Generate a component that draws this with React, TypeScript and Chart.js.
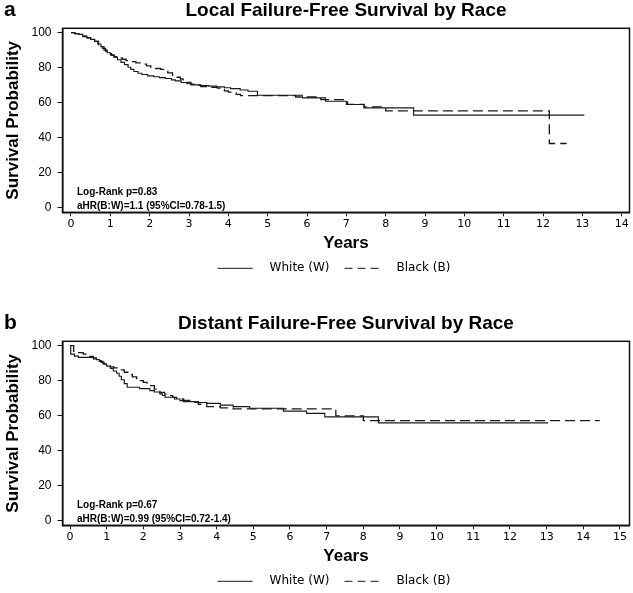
import React, { useEffect, useRef } from 'react';
import { Chart, registerables } from 'chart.js';

Chart.register(...registerables);

// ---------- data ----------
const seriesLabels = ['White (W)', 'Black (B)'];
const yTicks = [0, 20, 40, 60, 80, 100];

// Panel a: Local failure-free survival
const localXTicks = [0, 1, 2, 3, 4, 5, 6, 7, 8, 9, 10, 11, 12, 13, 14];
const localWhiteYears = [0, 0.1, 0.2, 0.3, 0.4, 0.5, 0.6, 0.68, 0.76, 0.84, 0.92, 1.0, 1.09, 1.18, 1.27, 1.36, 1.45, 1.52, 1.6, 1.7, 1.8, 1.95, 2.1, 2.25, 2.4, 2.55, 2.65, 2.8, 2.95, 3.05, 3.3, 3.5, 3.7, 3.9, 4.06, 4.3, 4.5, 4.74, 5.88, 6.47, 7.0, 7.45, 8.71, 13.05];
const localWhiteSurvival = [100, 99.5, 99, 98, 97.2, 96.2, 95, 93.5, 92, 90, 88.5, 87.3, 86, 84.5, 83, 81.7, 80.2, 79, 77.8, 76.8, 76.1, 75.3, 74.8, 74.3, 73.8, 73, 72.4, 71.5, 70.8, 70.1, 69.7, 69.4, 69, 68.5, 68, 67.2, 66.5, 64.2, 62.7, 60.8, 58.9, 57, 52.8, 52.8];
const localBlackYears = [0, 0.1, 0.2, 0.3, 0.4, 0.5, 0.6, 0.7, 0.8, 0.88, 0.95, 1.03, 1.1, 1.2, 1.3, 1.4, 1.52, 1.65, 1.8, 1.92, 2.03, 2.15, 2.28, 2.38, 2.46, 2.58, 2.7, 2.78, 2.85, 2.95, 3.05, 3.18, 3.3, 3.5, 3.72, 3.82, 3.9, 4.0, 4.1, 4.2, 4.31, 5.71, 6.35, 7.03, 7.45, 8.0, 12.16, 12.6];
const localBlackSurvival = [100, 99.3, 98.6, 97.8, 97, 96, 95, 93, 91, 89.5, 88, 87, 86.3, 85.5, 84.8, 84, 83.4, 82.7, 82, 81, 80, 79.5, 79, 78, 77, 75.7, 74.5, 73.5, 72.5, 71.5, 70.6, 69.8, 69.2, 68.7, 68.3, 67.5, 66.7, 66, 65.5, 64.7, 64, 63.2, 61.7, 59, 57.6, 55.3, 36.6, 36.6];
const localStats = ['Log-Rank p=0.83', 'aHR(B:W)=1.1 (95%CI=0.78-1.5)'];

// Panel b: Distant failure-free survival
const distantXTicks = [0, 1, 2, 3, 4, 5, 6, 7, 8, 9, 10, 11, 12, 13, 14, 15];
const distantWhiteYears = [0, 0.02, 0.12, 0.23, 0.64, 0.72, 0.8, 0.9, 1.0, 1.1, 1.18, 1.27, 1.34, 1.4, 1.48, 1.56, 1.9, 2.18, 2.3, 2.45, 2.52, 2.59, 2.85, 3.0, 3.09, 3.4, 3.73, 4.1, 4.45, 4.9, 5.82, 6.45, 6.95, 8.41, 13.04];
const distantWhiteSurvival = [100, 95.2, 94, 93.3, 93, 92, 91, 89.5, 88.3, 87, 85.5, 84.2, 82.5, 80.5, 78.3, 76.2, 75.4, 74.3, 73.5, 72.4, 71.5, 70.5, 69.5, 68.6, 68, 67.5, 67, 66, 65.1, 64.2, 62.6, 61.3, 59.3, 55.8, 55.8];
const distantBlackYears = [0, 0.1, 0.2, 0.36, 0.5, 0.64, 0.75, 0.85, 0.93, 1.0, 1.1, 1.2, 1.36, 1.48, 1.6, 1.7, 1.82, 1.92, 2.0, 2.1, 2.18, 2.3, 2.38, 2.45, 2.58, 2.7, 2.8, 2.91, 3.1, 3.27, 3.5, 3.73, 4.1, 4.45, 7.25, 8.0, 14.45];
const distantBlackSurvival = [100, 96.8, 96, 95.2, 93.8, 92.4, 91.4, 90.5, 89.5, 88.6, 87.9, 87.3, 86.1, 84.8, 83.5, 82.2, 81, 80, 79, 78, 77.1, 75.2, 74.2, 73.3, 72.3, 71.4, 70.4, 69.5, 68.7, 68, 66.5, 65.1, 64.4, 63.8, 59.8, 57.1, 57.1];
const distantStats = ['Log-Rank p=0.67', 'aHR(B:W)=0.99 (95%CI=0.72-1.4)'];

// ---------- styling ----------
const SANS = '"Liberation Sans", Arial, Helvetica, sans-serif';
const VERDANA = '"DejaVu Sans", Verdana, sans-serif';
const LINE_COLOR = '#1a1a1a';
const CURVE_DASH = [10, 5];
const LEGEND_DASH = [8, 5];

const toPoints = (xs: number[], ys: number[]) => xs.map((x, i) => ({ x, y: ys[i] }));

const overlayPlugin = {
  id: 'kmOverlay',
  afterDraw(chart: any, _args: any, opts: any) {
    const { ctx, chartArea: ca } = chart;
    ctx.save();
    // plot frame
    ctx.setLineDash([]);
    ctx.strokeStyle = '#111';
    ctx.lineWidth = 1.5;
    ctx.strokeRect(ca.left, ca.top, ca.right - ca.left, ca.bottom - ca.top);

    // panel letter
    ctx.fillStyle = '#000';
    ctx.textAlign = 'left';
    ctx.textBaseline = 'middle';
    ctx.font = `bold 21px ${SANS}`;
    ctx.fillText(opts.letter, 4, 10);

    // statistics
    ctx.font = `bold 10px ${SANS}`;
    (opts.stats as string[]).forEach((s, i) => {
      ctx.fillText(s, ca.left + 14.5, ca.bottom - 19.8 + i * 14);
    });

    // legend
    ctx.font = `12px ${VERDANA}`;
    const lineLen = 35;
    const lineGap = 17;
    const itemGap = 15;
    const datasets = chart.data.datasets;
    const widths = datasets.map((d: any) => ctx.measureText(d.label).width);
    let total = 0;
    widths.forEach((w: number, i: number) => {
      total += lineLen + lineGap + w + (i < widths.length - 1 ? itemGap : 0);
    });
    let x = (ca.left + ca.right) / 2 - 12 - total / 2;
    const y = ca.bottom + 56;
    datasets.forEach((d: any, i: number) => {
      ctx.beginPath();
      ctx.strokeStyle = '#444';
      ctx.lineWidth = 1.3;
      ctx.setLineDash(d.borderDash && d.borderDash.length ? LEGEND_DASH : []);
      ctx.moveTo(x, y);
      ctx.lineTo(x + lineLen, y);
      ctx.stroke();
      ctx.setLineDash([]);
      ctx.fillStyle = '#000';
      ctx.fillText(d.label, x + lineLen + lineGap, y);
      x += lineLen + lineGap + widths[i] + itemGap;
    });
    ctx.restore();
  },
};

type PanelProps = {
  letter: string;
  title: string;
  xTicks: number[];
  xMin: number;
  xMax: number;
  whiteYears: number[];
  whiteSurv: number[];
  blackYears: number[];
  blackSurv: number[];
  stats: string[];
  top: number;
};

function KMPanel(p: PanelProps) {
  const ref = useRef<HTMLCanvasElement | null>(null);
  useEffect(() => {
    if (!ref.current) return;
    const chart = new Chart(ref.current, {
      type: 'line',
      data: {
        datasets: [
          {
            label: seriesLabels[0],
            data: toPoints(p.whiteYears, p.whiteSurv),
            stepped: true,
            borderColor: LINE_COLOR,
            borderWidth: 1.15,
            borderDash: [],
            pointRadius: 0,
            fill: false,
          },
          {
            label: seriesLabels[1],
            data: toPoints(p.blackYears, p.blackSurv),
            stepped: true,
            borderColor: LINE_COLOR,
            borderWidth: 1.3,
            borderDash: CURVE_DASH,
            pointRadius: 0,
            fill: false,
          },
        ],
      },
      options: {
        animation: false,
        responsive: false,
        devicePixelRatio: 1,
        events: [],
        layout: { padding: { top: 0, left: 0, right: 3.5, bottom: 46.1 } },
        plugins: {
          legend: { display: false },
          tooltip: { enabled: false },
          title: {
            display: true,
            text: p.title,
            fullSize: false,
            color: '#000',
            font: { family: SANS, size: 19, weight: 'bold', lineHeight: 1 },
            padding: { top: 1, bottom: 8.3 },
          },
          kmOverlay: { letter: p.letter, stats: p.stats },
        } as any,
        scales: {
          x: {
            type: 'linear',
            min: p.xMin,
            max: p.xMax,
            afterBuildTicks: (s: any) => {
              s.ticks = p.xTicks.map((v) => ({ value: v }));
            },
            afterFit: (s: any) => {
              s.height = 41.6;
            },
            ticks: {
              autoSkip: false,
              maxRotation: 0,
              padding: 1,
              color: '#000',
              font: { family: VERDANA, size: 11 },
            },
            grid: { drawOnChartArea: false, drawTicks: true, tickLength: 4, color: '#111' },
            border: { display: true, color: '#111', width: 1.5 },
            title: {
              display: true,
              text: 'Years',
              color: '#000',
              font: { family: SANS, size: 17, weight: 'bold' },
              padding: { top: 0, bottom: 0 },
            },
          },
          y: {
            type: 'linear',
            min: -2.75,
            max: 102.5,
            afterBuildTicks: (s: any) => {
              s.ticks = yTicks.map((v) => ({ value: v }));
            },
            afterFit: (s: any) => {
              s.width = 62.5;
            },
            ticks: {
              padding: 6,
              color: '#000',
              font: { family: SANS, size: 12 },
            },
            grid: { drawOnChartArea: false, drawTicks: true, tickLength: 5, color: '#111' },
            border: { display: true, color: '#111', width: 1.5 },
            title: {
              display: true,
              text: 'Survival Probability',
              color: '#000',
              font: { family: SANS, size: 17, weight: 'bold' },
              padding: { top: 3, bottom: 0 },
            },
          },
        },
      } as any,
      plugins: [overlayPlugin],
    });
    return () => chart.destroy();
  }, []);
  return (
    <canvas
      ref={ref}
      width={633}
      height={300}
      style={{ position: 'absolute', left: 0, top: p.top, width: 633, height: 300, display: 'block' }}
    />
  );
}

export default function App() {
  return (
    <div
      style={{
        position: 'absolute',
        left: 0,
        top: 0,
        width: 633,
        height: 593,
        overflow: 'hidden',
        background: '#fff',
      }}
    >
      <KMPanel
        letter="a"
        title="Local Failure-Free Survival by Race"
        xTicks={localXTicks}
        xMin={-0.216}
        xMax={14.198}
        whiteYears={localWhiteYears}
        whiteSurv={localWhiteSurvival}
        blackYears={localBlackYears}
        blackSurv={localBlackSurvival}
        stats={localStats}
        top={0}
      />
      <KMPanel
        letter="b"
        title="Distant Failure-Free Survival by Race"
        xTicks={distantXTicks}
        xMin={-0.205}
        xMax={15.26}
        whiteYears={distantWhiteYears}
        whiteSurv={distantWhiteSurvival}
        blackYears={distantBlackYears}
        blackSurv={distantBlackSurvival}
        stats={distantStats}
        top={313}
      />
    </div>
  );
}
